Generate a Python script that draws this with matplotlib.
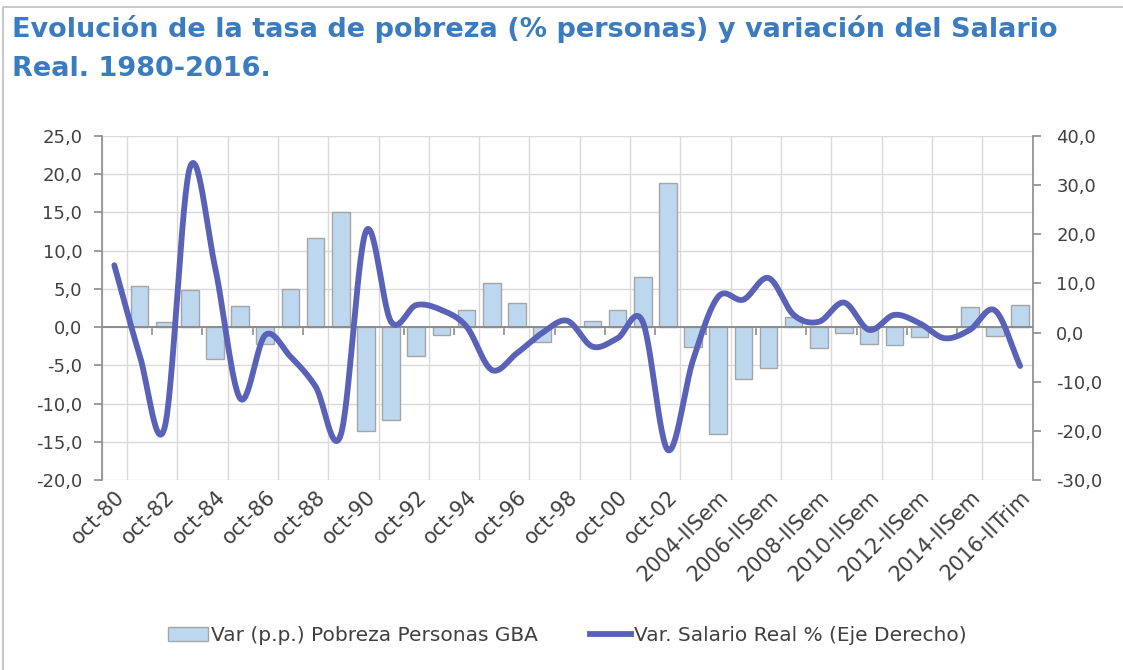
import numpy as np
import matplotlib
matplotlib.use("Agg")
import matplotlib.pyplot as plt
from matplotlib.patches import Patch, Rectangle
from matplotlib.lines import Line2D
from matplotlib.ticker import FuncFormatter

plt.rcParams['font.family'] = ['DejaVu Sans']

# --- data ---
years = [f"oct-{y % 100:02d}" for y in range(1980, 2003)]
periods = years + [f"{y}-IISem" for y in range(2003, 2016)] + ["2016-IITrim"]

pobreza_pp = [np.nan, 5.4, 0.65, 4.8, -4.2, 2.8, -2.2, 5.05, 11.7, 15.0,
              -13.6, -12.2, -3.75, -0.97, 2.2, 5.8, 3.1, -1.9, np.nan, 0.8,
              2.2, 6.5, 18.9, -2.6, -14.0, -6.8, -5.4, 1.35, -2.75, -0.8,
              -2.2, -2.4, -1.27, np.nan, 2.57, -1.14, 2.9]

salario_real = [13.7, -4.5, -19.3, 33.5, 13.4, -13.4, -0.5, -4.9, -11.0, -20.8,
                20.6, 2.2, 5.6, 4.6, 1.2, -7.6, -4.2, -0.1, 2.4, -2.85,
                -1.15, 2.2, -23.9, -5.6, 7.3, 6.7, 11.1, 3.6, 2.2, 6.1,
                0.55, 3.6, 1.9, -1.15, 0.55, 4.5, -6.8]

title = "Evolución de la tasa de pobreza (% personas) y variación del Salario\nReal. 1980-2016."

BAR_FACE = "#BDD7EE"
BAR_EDGE = "#A5A5A5"
LINE_COL = "#5A62B8"
TXT = "#404040"
GRID = "#D9D9D9"
AXIS = "#8C8C8C"
TITLE_COL = "#3B7BBF"


def smooth(x, y, n=30):
    # catmull-rom style smoothing, similar to a spreadsheet "smoothed line"
    x = np.asarray(x, float)
    y = np.asarray(y, float)
    px = np.concatenate([[2 * x[0] - x[1]], x, [2 * x[-1] - x[-2]]])
    py = np.concatenate([[2 * y[0] - y[1]], y, [2 * y[-1] - y[-2]]])
    xs, ys = [], []
    t = np.linspace(0, 1, n, endpoint=False)
    for i in range(1, len(px) - 2):
        for p, out in ((px, xs), (py, ys)):
            p0, p1, p2, p3 = p[i - 1], p[i], p[i + 1], p[i + 2]
            out.extend(0.5 * ((2 * p1) + (-p0 + p2) * t +
                              (2 * p0 - 5 * p1 + 4 * p2 - p3) * t ** 2 +
                              (-p0 + 3 * p1 - 3 * p2 + p3) * t ** 3))
    xs.append(x[-1])
    ys.append(y[-1])
    return np.array(xs), np.array(ys)


fig = plt.figure(figsize=(11.23, 6.70), dpi=100)
ax = fig.add_axes([0.0906, 0.2836, 0.8290, 0.5134])
ax2 = ax.twinx()

x = np.arange(len(periods))
ax.bar(x, pobreza_pp, width=0.7, color=BAR_FACE, edgecolor=BAR_EDGE,
       linewidth=1.0, zorder=3)
ax.axhline(0, color=AXIS, lw=1.4, zorder=4)

sx, sy = smooth(x, salario_real)
ax2.plot(sx, sy, color=LINE_COL, lw=4.2, solid_capstyle='round', zorder=5)

# left axis
ax.set_xlim(-0.5, len(periods) - 0.5)
ax.set_ylim(-20, 25)
ax.set_yticks(np.arange(-20, 26, 5))
ax2.set_ylim(-30, 40)
ax2.set_yticks(np.arange(-30, 41, 10))
fmt = FuncFormatter(lambda v, p: f"{v:.1f}".replace(".", ","))
ax.yaxis.set_major_formatter(fmt)
ax2.yaxis.set_major_formatter(fmt)

ax.grid(axis='y', color=GRID, lw=1.0, zorder=0)
ax.set_xticks(np.arange(-0.5, len(periods), 1), minor=True)
ax.grid(axis='x', which='minor', color=GRID, lw=1.0, zorder=0)
ax.set_axisbelow(True)

# category axis crosses at 0 with tick marks between every 2 categories
ax.spines['bottom'].set_position(('data', 0))
ax.spines['bottom'].set_visible(False)
ax.set_xticks(np.arange(1.5, len(periods) - 0.5, 2))
ax.tick_params(axis='x', which='major', direction='out', length=6, width=1.2,
               color=AXIS, labelbottom=False)
ax.tick_params(axis='x', which='minor', length=0)

lab = ax.secondary_xaxis(0)
lab.set_xticks(x[::2])
lab.set_xticklabels(periods[::2], rotation=45, ha='right',
                    rotation_mode='anchor', fontsize=15, color=TXT)
lab.tick_params(length=0, pad=5)
lab.spines['bottom'].set_visible(False)

for a in (ax, ax2):
    a.spines['top'].set_visible(False)
for s in ('left', 'right'):
    ax2.spines[s].set_color(AXIS)
    ax2.spines[s].set_linewidth(1.2)
ax.spines['left'].set_visible(False)
ax.spines['right'].set_visible(False)
ax2.spines['bottom'].set_visible(False)

ax.tick_params(axis='y', direction='out', length=6, width=1.2, color=AXIS,
               labelsize=13, labelcolor=TXT, pad=8)
ax2.tick_params(axis='y', direction='out', length=6, width=1.2, color=AXIS,
                labelsize=13, labelcolor=TXT, pad=11)

# title and frame
fig.text(0.011, 0.977, title, ha='left', va='top', fontsize=19.5,
         fontweight='bold', color=TITLE_COL, linespacing=1.65)
fig.patches.append(Rectangle((3 / 1123, -0.05), 1.1, 1 - 7 / 670 + 0.05,
                             transform=fig.transFigure, fill=False,
                             edgecolor="#BFBFBF", lw=1.2))

handles = [Patch(facecolor=BAR_FACE, edgecolor=BAR_EDGE, lw=1.0),
           Line2D([0], [0], color=LINE_COL, lw=4.2)]
fig.legend(handles, ["Var (p.p.) Pobreza Personas GBA",
                     "Var. Salario Real % (Eje Derecho)"],
           loc='center', bbox_to_anchor=(0.505, 0.051), ncol=2, frameon=False,
           fontsize=14.5, labelcolor=TXT, handlelength=2.0, handletextpad=0.15,
           columnspacing=2.6)

fig.savefig("out.png", dpi=100)
